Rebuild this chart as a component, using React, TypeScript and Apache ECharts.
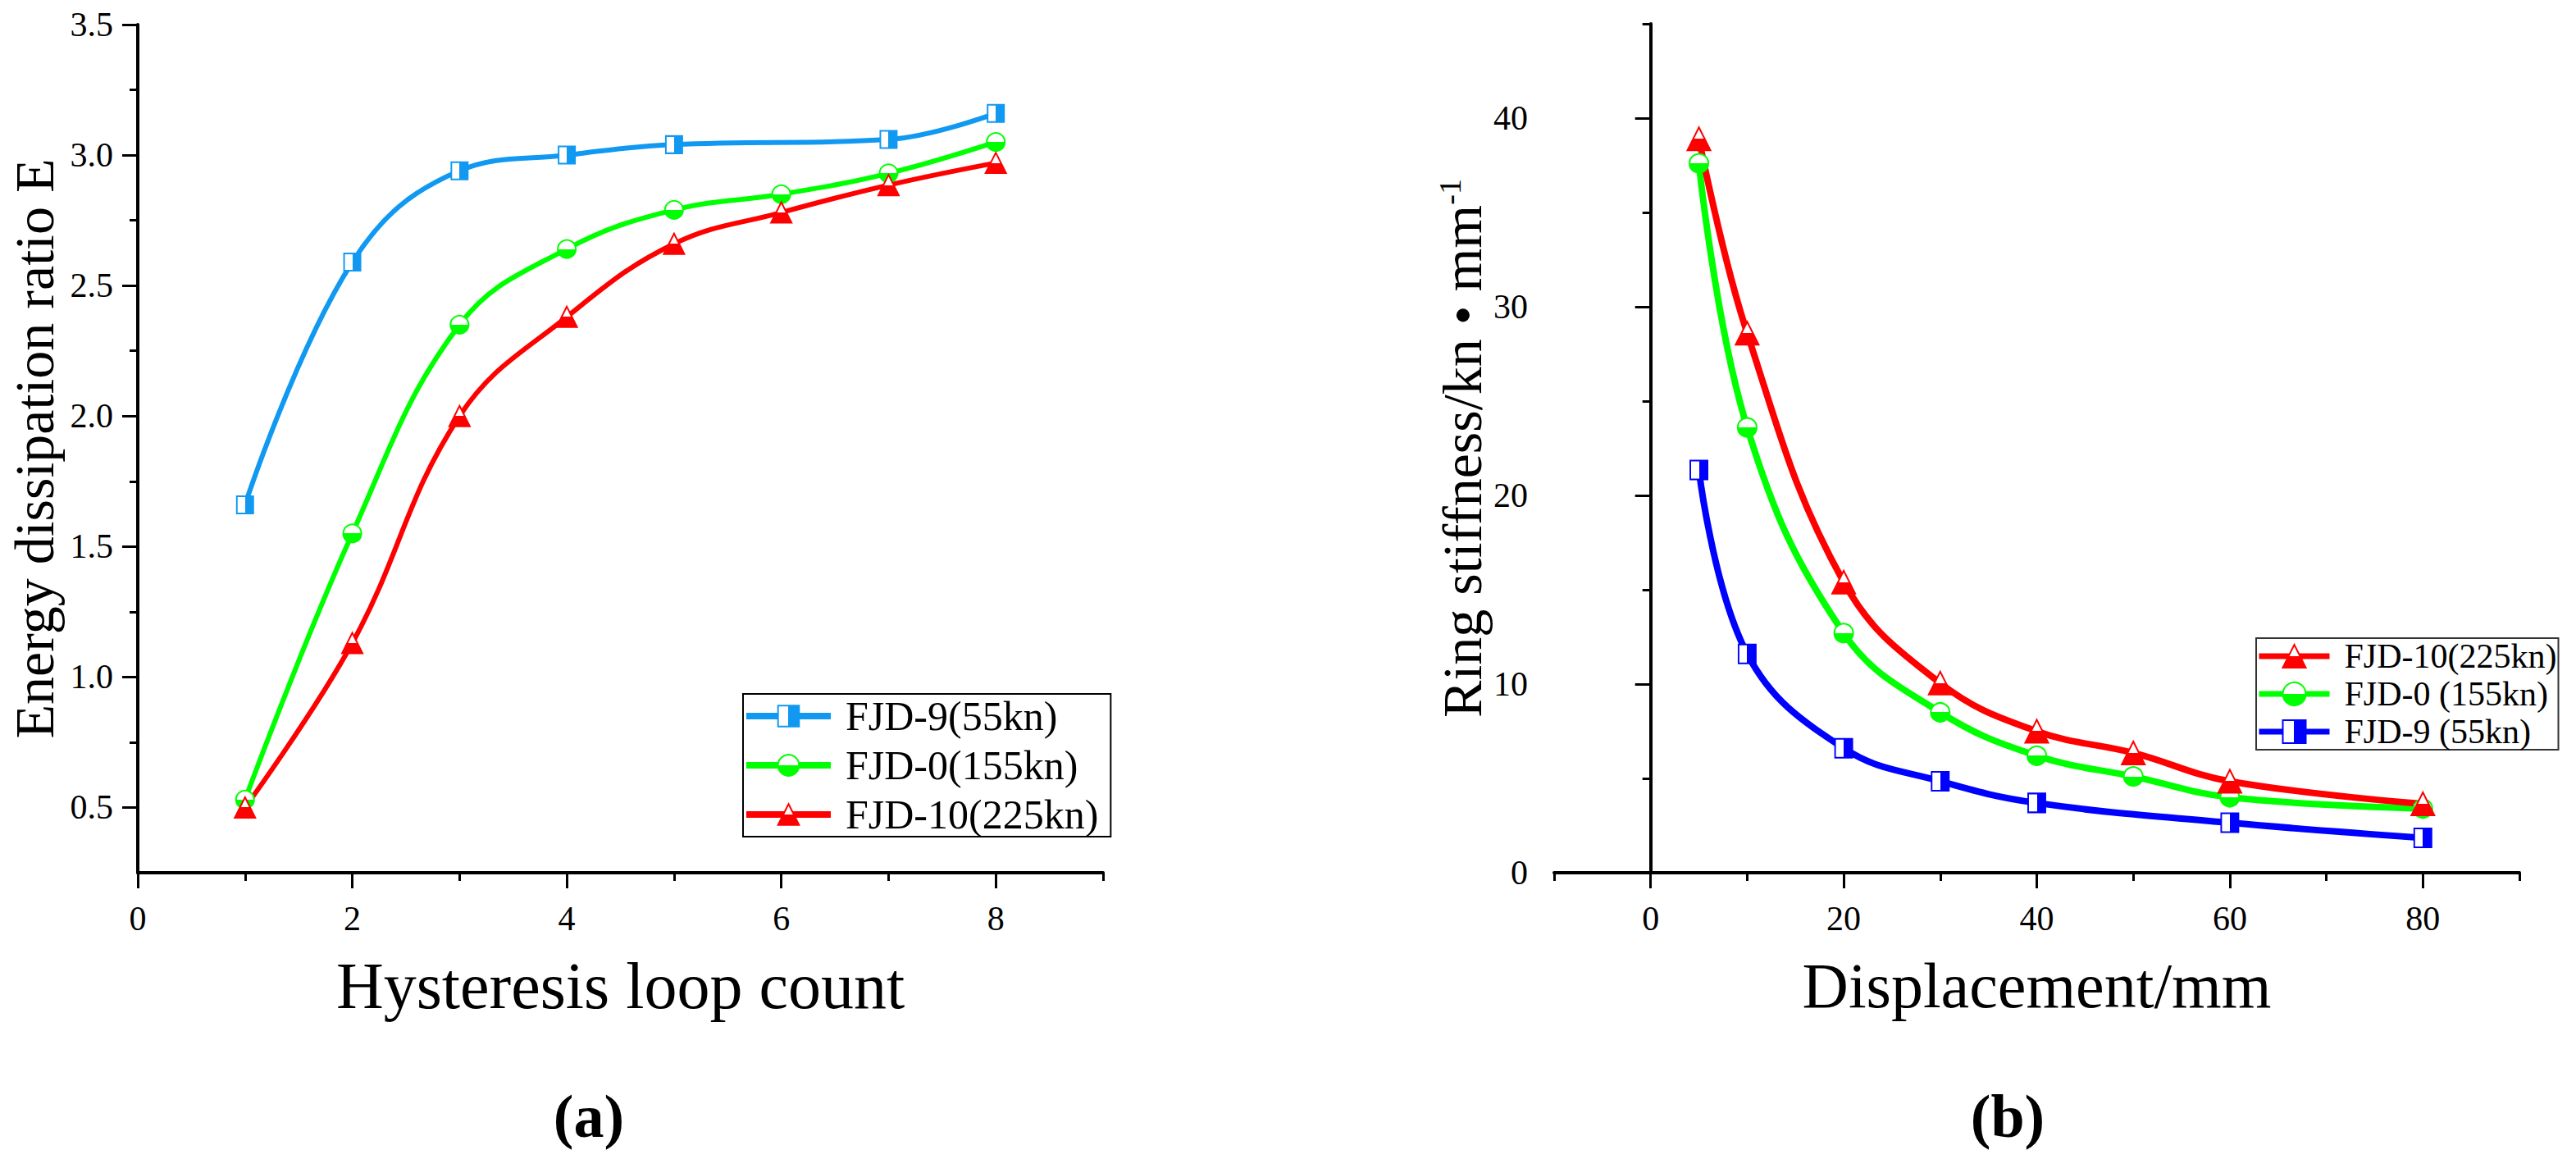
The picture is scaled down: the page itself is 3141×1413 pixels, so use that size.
import { useEffect, useRef } from "react";
import * as echarts from "echarts";

const FONT = "Liberation Serif";

// ---------- (a) Energy dissipation ratio ----------
const namesA = ["FJD-9(55kn)", "FJD-0(155kn)", "FJD-10(225kn)"];
const loopBlueX = [1, 2, 3, 4, 5, 7, 8];
const loopBlueY = [1.66, 2.59, 2.94, 3.0, 3.04, 3.06, 3.16];
const loopX = [1, 2, 3, 4, 5, 6, 7, 8];
const loopGreenY = [0.53, 1.55, 2.35, 2.64, 2.79, 2.85, 2.93, 3.05];
const loopRedY = [0.5, 1.13, 2.0, 2.38, 2.66, 2.78, 2.885, 2.97];
const xTicksA = [0, 2, 4, 6, 8];
const xMinorA = [1, 3, 5, 7, 9];
const yTicksA = [0.5, 1.0, 1.5, 2.0, 2.5, 3.0, 3.5];
const yMinorA = [0.75, 1.25, 1.75, 2.25, 2.75, 3.25];

// ---------- (b) Ring stiffness ----------
const namesB = ["FJD-10(225kn)", "FJD-0 (155kn)", "FJD-9 (55kn)"];
const dispX = [5, 10, 20, 30, 40, 50, 60, 80];
const dispBlueX = [5, 10, 20, 30, 40, 60, 80];
const stiffRed = [38.9, 28.6, 15.4, 10.05, 7.5, 6.35, 4.85, 3.65];
const stiffGreen = [37.6, 23.6, 12.7, 8.5, 6.2, 5.1, 4.0, 3.4];
const stiffBlue = [21.35, 11.6, 6.6, 4.85, 3.7, 2.65, 1.85];
const xTicksB = [0, 20, 40, 60, 80];
const xMinorB = [-10, 10, 30, 50, 70, 90];
const yTicksB = [0, 10, 20, 30, 40];
const yMinorB = [5, 15, 25, 35, 45];

const COLORS = {
  lightBlue: "#1199F2",
  green: "#00FF00",
  red: "#FF0000",
  blue: "#0000FF",
};

function halfFill(color: string, horizontal: boolean) {
  return new echarts.graphic.LinearGradient(0, 0, horizontal ? 1 : 0, horizontal ? 0 : 1, [
    { offset: 0, color: "#ffffff" },
    { offset: 0.5, color: "#ffffff" },
    { offset: 0.5, color },
    { offset: 1, color },
  ]);
}

function makeSeries(
  name: string,
  xs: number[],
  ys: number[],
  color: string,
  symbol: string,
  size: number | number[],
  width: number,
  axisIndex: number,
  horizontal: boolean
) {
  return {
    type: "line",
    name,
    xAxisIndex: axisIndex,
    yAxisIndex: axisIndex,
    data: xs.map((x, i) => [x, ys[i]]),
    smooth: 0.4,
    symbol,
    symbolSize: size,
    showSymbol: true,
    lineStyle: { color, width },
    itemStyle: { color: halfFill(color, horizontal), borderColor: color, borderWidth: 2 },
    emphasis: { disabled: true },
  };
}

const tickLabelStyle = { fontFamily: FONT, fontSize: 42, color: "#000" };
const axisLine = { show: true, lineStyle: { color: "#000", width: 4 } };

function mainAxis(o: any) {
  return {
    type: "value",
    gridIndex: o.grid,
    position: o.position,
    min: o.min,
    max: o.max,
    axisLine,
    axisTick: { show: true, customValues: o.ticks, length: 19, lineStyle: { color: "#000", width: 3 } },
    axisLabel: {
      show: true,
      customValues: o.ticks,
      margin: o.margin,
      formatter: o.formatter,
      ...tickLabelStyle,
    },
    splitLine: { show: false },
    name: o.name,
    nameLocation: "middle",
    nameGap: o.nameGap,
    nameTextStyle: o.nameTextStyle,
  };
}

function minorAxis(o: any) {
  return {
    type: "value",
    gridIndex: o.grid,
    position: o.position,
    min: o.min,
    max: o.max,
    axisLine: { show: false },
    axisTick: { show: true, customValues: o.ticks, length: 10, lineStyle: { color: "#000", width: 3 } },
    axisLabel: { show: false },
    splitLine: { show: false },
  };
}

const option: any = {
  animation: false,
  backgroundColor: "#ffffff",
  grid: [
    { left: 168, top: 30, width: 1177, height: 1034 },
    { left: 1895, top: 29, width: 1177, height: 1035 },
  ],
  xAxis: [
    mainAxis({
      grid: 0,
      position: "bottom",
      min: 0,
      max: 9,
      ticks: xTicksA,
      margin: 35,
      formatter: (v: number) => String(v),
      name: "Hysteresis loop count",
      nameGap: 98,
      nameTextStyle: { fontFamily: FONT, fontSize: 80, color: "#000" },
    }),
    minorAxis({ grid: 0, position: "bottom", min: 0, max: 9, ticks: xMinorA }),
    mainAxis({
      grid: 1,
      position: "bottom",
      min: -10,
      max: 90,
      ticks: xTicksB,
      margin: 35,
      formatter: (v: number) => String(v),
      name: "Displacement/mm",
      nameGap: 98,
      nameTextStyle: { fontFamily: FONT, fontSize: 78, color: "#000" },
    }),
    minorAxis({ grid: 1, position: "bottom", min: -10, max: 90, ticks: xMinorB }),
  ],
  yAxis: [
    mainAxis({
      grid: 0,
      position: "left",
      min: 0.25,
      max: 3.5,
      ticks: yTicksA,
      margin: 30,
      formatter: (v: number) => v.toFixed(1),
      name: "Energy dissipation ratio E",
      nameGap: 92,
      nameTextStyle: { fontFamily: FONT, fontSize: 68, color: "#000" },
    }),
    minorAxis({ grid: 0, position: "left", min: 0.25, max: 3.5, ticks: yMinorA }),
    mainAxis({
      grid: 1,
      position: "left",
      min: 0,
      max: 45,
      ticks: yTicksB,
      margin: 32,
      formatter: (v: number) => String(v),
      name: "{m|Ring stiffness/kn • mm}{s|-1}",
      nameGap: 77,
      nameTextStyle: {
        fontFamily: FONT,
        fontSize: 68,
        color: "#000",
        rich: {
          m: { fontFamily: FONT, fontSize: 68, color: "#000" },
          s: { fontFamily: FONT, fontSize: 38, color: "#000", verticalAlign: "top" },
        },
      },
    }),
    minorAxis({ grid: 1, position: "left", min: 0, max: 45, ticks: yMinorB }),
  ],
  legend: [
    {
      data: namesA,
      orient: "vertical",
      left: 906,
      top: 846,
      itemWidth: 103,
      itemHeight: 32,
      itemGap: 10,
      padding: [2, 15, 2, 0],
      borderColor: "#000",
      borderWidth: 2,
      selectedMode: false,
      lineStyle: { width: 8 },
      textStyle: { fontFamily: FONT, fontSize: 50, color: "#000", padding: [0, 0, 0, 13] },
    },
    {
      data: namesB,
      orient: "vertical",
      left: 2751,
      top: 778,
      itemWidth: 86,
      itemHeight: 35,
      itemGap: 4,
      padding: [1, 2, 1, 0],
      borderColor: "#333",
      borderWidth: 2,
      selectedMode: false,
      lineStyle: { width: 7 },
      textStyle: { fontFamily: FONT, fontSize: 42, color: "#000", padding: [0, 0, 0, 13] },
    },
  ],
  graphic: [
    {
      type: "text",
      x: 718,
      y: 1361,
      style: {
        text: "(a)",
        fontFamily: FONT,
        fontSize: 74,
        fontWeight: "bold",
        fill: "#000",
        textAlign: "center",
        textVerticalAlign: "middle",
      },
    },
    {
      type: "text",
      x: 2448,
      y: 1361,
      style: {
        text: "(b)",
        fontFamily: FONT,
        fontSize: 74,
        fontWeight: "bold",
        fill: "#000",
        textAlign: "center",
        textVerticalAlign: "middle",
      },
    },
  ],
  series: [
    makeSeries(namesA[0], loopBlueX, loopBlueY, COLORS.lightBlue, "rect", [20, 21], 6, 0, true),
    makeSeries(namesA[1], loopX, loopGreenY, COLORS.green, "circle", 22, 6, 0, false),
    makeSeries(namesA[2], loopX, loopRedY, COLORS.red, "triangle", 25, 6, 0, false),
    makeSeries(namesB[2], dispBlueX, stiffBlue, COLORS.blue, "rect", [21, 23], 8, 2, true),
    makeSeries(namesB[1], dispX, stiffGreen, COLORS.green, "circle", 23, 8, 2, false),
    makeSeries(namesB[0], dispX, stiffRed, COLORS.red, "triangle", 28, 8, 2, false),
  ],
};

export default function App() {
  const ref = useRef<HTMLDivElement>(null);
  useEffect(() => {
    if (!ref.current) return;
    const chart = echarts.init(ref.current, null, { renderer: "svg" });
    chart.setOption(option);
    return () => chart.dispose();
  }, []);
  return (
    <div
      ref={ref}
      style={{ position: "absolute", left: 0, top: 0, width: 3141, height: 1413, background: "#fff" }}
    />
  );
}
